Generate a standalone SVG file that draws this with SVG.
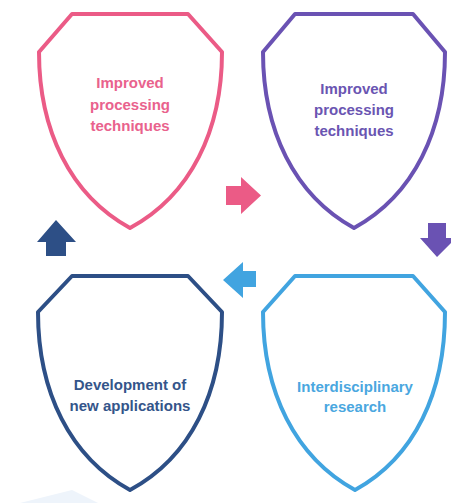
<svg xmlns="http://www.w3.org/2000/svg" width="451" height="503" viewBox="0 0 451 503">
<style>
.shield{fill:#ffffff;stroke-width:4;stroke-linejoin:round}
.lbl{font-family:"Liberation Sans",Arial,sans-serif;font-size:15px;font-weight:bold;text-anchor:middle}
.pink{stroke:#EB5B86}.pinkt{fill:#E9628D}
.purple{stroke:#6A52B3}.purplet{fill:#6A55B2}
.navy{stroke:#2D4F86}.navyt{fill:#34558A}
.sky{stroke:#41A4E0}.skyt{fill:#4AA7E0}
</style>
<rect width="451" height="503" fill="#ffffff"/>
<polygon points="20,503 72,490 98,503" fill="#EEF4FB"/>
<g id="node-1">
<path class="shield pink" d="M72,14 L188,14 L222,52 C222,130 191,195 130,228 C70,195 39,130 39,52 Z"/>
<text class="lbl pinkt" x="130" y="88">Improved</text>
<text class="lbl pinkt" x="130" y="110">processing</text>
<text class="lbl pinkt" x="130" y="131">techniques</text>
</g>
<g id="node-2">
<path class="shield purple" d="M295,14 L413,14 L445,52 C445,130 414,195 354,228 C294,195 263,130 263,52 Z"/>
<text class="lbl purplet" x="354" y="94">Improved</text>
<text class="lbl purplet" x="354" y="115">processing</text>
<text class="lbl purplet" x="354" y="136">techniques</text>
</g>
<g id="node-3">
<path class="shield navy" d="M72,276 L188,276 L222,312 C222,392 191,457 130,490 C70,457 38,392 38,312 Z"/>
<text class="lbl navyt" x="130" y="390">Development of</text>
<text class="lbl navyt" x="130" y="411">new applications</text>
</g>
<g id="node-4">
<path class="shield sky" d="M295,276 L413,276 L445,312 C445,392 415,457 355,490 C295,457 263,392 263,312 Z"/>
<text class="lbl skyt" x="355" y="392">Interdisciplinary</text>
<text class="lbl skyt" x="355" y="412">research</text>
</g>
<g id="connectors">
<polygon fill="#EB5B86" points="226,186 241,186 241,177 261,195.5 241,214 241,205 226,205"/>
<polygon fill="#6A52B3" points="428,223 446,223 446,238 456,238 437,257 420,238 428,238"/>
<polygon fill="#41A4E0" points="256,271 243,271 243,262 223,280 243,298 243,287 256,287"/>
<polygon fill="#2D4F86" points="46,256 66,256 66,242 76,242 56,220 37,242 46,242"/>
</g>
</svg>
